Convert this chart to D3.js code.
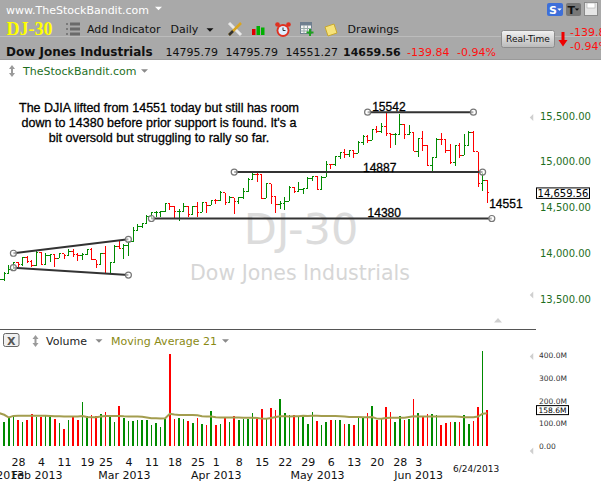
<!DOCTYPE html>
<html>
<head>
<meta charset="utf-8">
<title>DJ-30</title>
<script src="https://cdn.jsdelivr.net/npm/d3@7"></script>
<style>
body { margin: 0; background: #fff; overflow: hidden; }
svg { display: block; }
</style>
</head>
<body>
<script>
// trading days Jan 22 - Jun 24 2013, weekends and these holidays skipped
var holidays = ["2013-02-18", "2013-03-29", "2013-05-27"];

// daily bars, DJIA points
var opens = [13649,13712,13779,13825,13896,13882,13954,13910,13861,14009,
  13880,13979,13986,13944,13993,13971,14019,13983,13973,13982,
  14036,13928,13881,14001,13784,13900,14075,14054,14090,14128,
  14254,14296,14329,14397,14447,14450,14455,14539,14514,14452,
  14456,14512,14421,14512,14448,14560,14526,14579,14573,14662,
  14550,14606,14565,14613,14673,14802,14865,14865,14599,14757,
  14619,14537,14548,14567,14719,14676,14701,14713,14819,14840,
  14701,14832,14974,14969,15056,15105,15083,15118,15092,15215,
  15276,15233,15354,15335,15388,15307,15295,15303,15409,15303,
  15325,15116,15254,15178,14961,15041,15248,15239,15122,14995,
  15176,15070,15180,15318,15112,14758,14796];
var highs = [13720,13800,13870,13903,13906,13964,13965,13925,14020,14010,
  14000,13996,13993,14004,13995,14044,14049,14004,14008,14036,
  14054,13928,14002,14084,13908,14093,14150,14104,14128,14286,
  14320,14333,14414,14448,14460,14466,14540,14539,14514,14480,
  14546,14512,14512,14563,14560,14560,14584,14598,14684,14662,
  14627,14606,14614,14714,14827,14888,14875,14865,14761,14757,
  14619,14570,14611,14738,14723,14778,14715,14838,14840,14840,
  14846,15009,14974,15060,15106,15134,15120,15120,15223,15288,
  15289,15355,15389,15420,15542,15307,15310,15519,15409,15400,
  15325,15254,15340,15178,15050,15262,15310,15239,15195,15183,
  15200,15303,15333,15340,15112,14880,14796];
var lows = [13601,13700,13775,13825,13848,13860,13898,13845,13861,13874,
  13880,13905,13855,13944,13939,13971,13955,13919,13922,13982,
  13927,13840,13881,13784,13784,13900,14050,13938,13970,14128,
  14254,14280,14329,14375,14399,14392,14455,14470,14370,14350,
  14456,14400,14421,14395,14448,14439,14523,14536,14573,14525,
  14550,14434,14542,14597,14673,14802,14775,14597,14599,14540,
  14444,14483,14473,14567,14655,14676,14647,14713,14785,14687,
  14701,14832,14925,14950,15026,15045,15053,15042,15092,15181,
  15210,15233,15318,15318,15277,15155,15180,15303,15244,15289,
  15115,15054,15120,14952,14884,15041,15183,15099,14975,14951,
  15045,15070,15180,15110,14720,14680,14551.27];
var closes = [13712,13779,13825,13896,13882,13954,13910,13861,14010,13880,
  13979,13987,13944,13993,13971,14019,13983,13973,13982,14036,
  13928,13881,14001,13784,13900,14075,14054,14090,14128,14254,
  14296,14329,14397,14447,14450,14455,14539,14514,14452,14456,
  14512,14421,14512,14448,14560,14526,14579,14573,14662,14550,
  14606,14565,14613,14673,14802,14865.14,14865.06,14599,14757,14619,
  14537,14548,14567,14719,14676,14701,14713,14819,14840,14701,
  14832,14974,14969,15056,15105,15083,15118,15092,15215,15276,
  15233,15354,15335,15388,15307,15295,15303,15409,15303,15325,
  15116,15254,15178,14961,15041,15248,15239,15122,14995,15176,
  15070,15180,15318,15112,14758,14799,14659.56];

// volume, millions of shares, and its 21 day average as drawn
var volumes = [145,108,127,127,115,108,115,140,127,127,
  133,127,119,100,75,115,127,115,195,133,
  136,131,140,150,131,106,177,124,112,112,
  115,115,115,93,100,83,119,407,119,124,
  119,111,102,124,97,93,155,93,97,127,
  108,133,115,119,119,145,119,164,119,168,
  159,208,146,136,136,127,130,97,150,111,
  93,105,115,115,115,97,97,93,125,125,
  145,177,115,121,171,150,108,133,115,121,
  208,145,130,142,140,136,93,100,106,106,
  106,136,97,111,171,420,158.6];
var volumeMA = [145,138,126,133,134,134,134,134,134,134,
  134,133,132,131,130,130,130,130,133,128,
  127,127,130,133,133,133,133,131,130,130,
  130,129,126,123,123,122,123,142,139,137,
  137,137,137,136,132,130,130,127,126,126,
  126,126,126,125,125,125,124,121,120,124,
  128,131,131,130,131,132,134,133,134,134,
  133,133,133,133,132,130,128,128,128,127,
  127,128,121,120,124,125,125,125,125,128,
  131,130,130,130,130,130,130,130,130,130,
  129,127,127,127,130,143,145];

var dayTicks = ["2013-01-28","2013-02-04","2013-02-11","2013-02-19","2013-02-25",
  "2013-03-04","2013-03-11","2013-03-18","2013-03-25","2013-04-01","2013-04-08",
  "2013-04-15","2013-04-22","2013-04-29","2013-05-06","2013-05-13","2013-05-20",
  "2013-05-28","2013-06-03"];
var monthTicks = ["2013-01-22","2013-02-01","2013-03-01","2013-04-01","2013-05-01","2013-06-03"];
var priceTicks = [13500, 14000, 14500, 15000, 15500];
var volumeTicks = [0, 100, 200, 300, 400];

// hand drawn lines on the chart
var drawnLines = [
  {from: "2013-01-25", p1: 14000, to: "2013-03-04", p2: 14152},
  {from: "2013-01-25", p1: 13842, to: "2013-03-04", p2: 13762},
  {from: "2013-03-11", p1: 14380, to: "2013-06-25", p2: 14380},
  {from: "2013-04-05", p1: 14887, to: "2013-06-21", p2: 14887},
  {from: "2013-05-16", p1: 15542, to: "2013-06-19", p2: 15542}
];
var drawnLabels = [
  {text: "15542", at: "2013-05-17", price: 15542, dy: -1.5},
  {text: "14887", at: "2013-05-15", price: 14887, dy: -0.5},
  {text: "14380", at: "2013-05-16", price: 14380, dy: -1.8},
  {text: "14551", at: "2013-06-24", price: 14551, dy: 5.2, dx: 2}
];
var note = ["The DJIA lifted from 14551 today but still has room",
  "down to 14380 before prior support is found. It's a",
  "bit oversold but struggling to rally so far."];

var W = 601, H = 482;
var UI = "'DejaVu Sans', Verdana, sans-serif";
var ARIAL = "'Liberation Sans', Arial, sans-serif";

var parse = d3.timeParse("%Y-%m-%d"), fmt = d3.timeFormat("%Y-%m-%d");
var dates = d3.timeDay.range(parse("2013-01-22"), parse("2013-06-25"))
  .filter(function(d) { return d.getDay() % 6 !== 0 && holidays.indexOf(fmt(d)) < 0; });
var idxOf = {};
dates.forEach(function(d, i) { idxOf[fmt(d)] = i; });

var x = d3.scaleLinear().domain([0, dates.length - 1]).range([-0.4, -0.4 + 4.6 * (dates.length - 1)]);
var yP = d3.scaleLinear().domain([13500, 15500]).range([299, 116]);
var yV = d3.scaleLinear().domain([0, 400]).range([446, 355.5]);

function xAt(s) {
  if (s in idxOf) return x(idxOf[s]);
  var last = dates.length - 1;
  return x(last + d3.timeDay.count(dates[last], parse(s)));
}

var svg = d3.select("body").append("svg")
  .attr("width", W).attr("height", H)
  .style("font-family", UI);

function txt(g, px, py, s, size, fill, extra) {
  var t = g.append("text").attr("x", px).attr("y", py)
    .attr("font-size", size).attr("fill", fill).text(s);
  if (extra) extra(t);
  return t;
}
function triDown(g, cx, cy, w, fill) {
  g.append("path").attr("d", "M" + (cx - w / 2) + "," + (cy - w / 4) + "h" + w + "l" + (-w / 2) + "," + (w / 2) + "z").attr("fill", fill);
}
function triLeft(g, cx, cy, s, fill) {
  g.append("path").attr("d", "M" + (cx + s / 2) + "," + (cy - s) + "v" + (2 * s) + "l" + (-s) + "," + (-s) + "z").attr("fill", fill);
}
function updown(g, cx, top, fill) {
  g.append("path").attr("d", "M" + cx + "," + top + "l3,4h-2v4h2l-3,4l-3,-4h2v-4h-2z").attr("fill", fill);
}

// ---------------- header ----------------
var hdr = svg.append("g");
hdr.append("rect").attr("width", W).attr("height", 60).attr("fill", "#a9a9a9");
hdr.append("line").attr("x1", 0).attr("x2", W).attr("y1", 36.5).attr("y2", 36.5).attr("stroke", "#bcbcbc");
hdr.append("line").attr("x1", 0).attr("x2", W).attr("y1", 59.5).attr("y2", 59.5).attr("stroke", "#9a9a9a");

txt(hdr, 6, 13.5, "www.TheStockBandit.com", 11, "#fff");
triDown(hdr, 158.5, 8.5, 7, "#fff");

txt(hdr, 6.5, 35, "DJ-30", 18, "#ffff00", function(t) {
  t.style("font-family", "'Liberation Serif', 'Times New Roman', serif").attr("font-weight", "bold");
});
// list icon
[24, 29, 34].forEach(function(yy) {
  hdr.append("rect").attr("x", 66).attr("y", yy - 1).attr("width", 2).attr("height", 2).attr("fill", "#7a7a7a");
  hdr.append("rect").attr("x", 70).attr("y", yy - 1.5).attr("width", 10).attr("height", 3).attr("fill", "#6a6a6a");
});
txt(hdr, 87, 33.3, "Add Indicator", 11, "#111");
txt(hdr, 170.5, 33.3, "Daily", 11, "#111");
triDown(hdr, 210, 30, 7, "#111");
// tools icon
hdr.append("line").attr("x1", 229).attr("y1", 23).attr("x2", 241).attr("y2", 35).attr("stroke", "#e8e8e8").attr("stroke-width", 3);
hdr.append("line").attr("x1", 241).attr("y1", 23).attr("x2", 229).attr("y2", 35).attr("stroke", "#d9a520").attr("stroke-width", 2.5);
hdr.append("line").attr("x1", 233).attr("y1", 31).attr("x2", 229).attr("y2", 35).attr("stroke", "#333").attr("stroke-width", 2.5);
// bar chart icon
[[252, 29, "#e00000"], [256.5, 26, "#00b000"], [261, 27.5, "#00b000"]].forEach(function(b) {
  hdr.append("rect").attr("x", b[0]).attr("y", b[1]).attr("width", 3.5).attr("height", 35 - b[1]).attr("fill", b[2]);
});
// alarm clock
hdr.append("circle").attr("cx", 283).attr("cy", 30.5).attr("r", 6.5).attr("fill", "#e03020");
hdr.append("circle").attr("cx", 283).attr("cy", 30.5).attr("r", 4.6).attr("fill", "#dfefff");
hdr.append("path").attr("d", "M283,27.5v3h2.5").attr("stroke", "#333").attr("fill", "none");
hdr.append("circle").attr("cx", 277.5).attr("cy", 24.5).attr("r", 2.3).attr("fill", "#e03020");
hdr.append("circle").attr("cx", 288.5).attr("cy", 24.5).attr("r", 2.3).attr("fill", "#e03020");
// calendar icon
hdr.append("rect").attr("x", 300.5).attr("y", 22.5).attr("width", 11).attr("height", 11).attr("fill", "#f4f4f4").attr("stroke", "#6f7f8f");
hdr.append("rect").attr("x", 300.5).attr("y", 22.5).attr("width", 11).attr("height", 3).attr("fill", "#6f7f8f");
[304, 307.5].forEach(function(xx) { hdr.append("line").attr("x1", xx).attr("x2", xx).attr("y1", 25).attr("y2", 33.5).attr("stroke", "#9aa"); });
[28.5, 31].forEach(function(yy) { hdr.append("line").attr("x1", 300.5).attr("x2", 311.5).attr("y1", yy).attr("y2", yy).attr("stroke", "#9aa"); });
hdr.append("path").attr("d", "M309,29h2v2.5h2.5v2h-2.5v2.5h-2v-2.5h-2.5v-2h2.5z").attr("fill", "#20a020");
// note icon
hdr.append("path").attr("d", "M325,27l9,-3l3,9l-9,3z").attr("fill", "#f6e27a").attr("stroke", "#c8a830");
txt(hdr, 347.5, 33.3, "Drawings", 11, "#111");
// top right buttons
hdr.append("rect").attr("x", 547).attr("y", 3).attr("width", 16).attr("height", 13).attr("rx", 2).attr("fill", "#3d6fd9");
txt(hdr, 549, 14, "S", 11, "#fff", function(t) { t.attr("font-weight", "bold"); });
triDown(hdr, 559.5, 9.5, 4.5, "#fff");
hdr.append("rect").attr("x", 566).attr("y", 3).attr("width", 15).attr("height", 13).attr("rx", 2).attr("fill", "#777");
txt(hdr, 567.5, 14, "T", 11, "#111", function(t) { t.attr("font-weight", "bold"); });
triDown(hdr, 577, 9.5, 4.5, "#111");
hdr.append("rect").attr("x", 584.5).attr("y", 2.5).attr("width", 13).attr("height", 13).attr("fill", "#e6e6e6").attr("stroke", "#8a8a8a");
hdr.append("rect").attr("x", 587).attr("y", 3).attr("width", 8).attr("height", 5).attr("fill", "#fff").attr("stroke", "#aaa").attr("stroke-width", 0.6);

// quote row
txt(hdr, 6, 56, "Dow Jones Industrials", 12, "#111", function(t) { t.attr("font-weight", "bold"); });
txt(hdr, 165.5, 56, "14795.79", 11, "#111");
txt(hdr, 225.5, 56, "14795.79", 11, "#111");
txt(hdr, 285.5, 56, "14551.27", 11, "#111");
txt(hdr, 343, 56, "14659.56", 11, "#111", function(t) { t.attr("font-weight", "bold"); });
txt(hdr, 407, 56, "-139.84", 11, "#ff1010");
txt(hdr, 457, 56, "-0.94%", 11, "#ff1010");

var grad = svg.append("defs").append("linearGradient").attr("id", "btn").attr("x1", 0).attr("x2", 0).attr("y1", 0).attr("y2", 1);
grad.append("stop").attr("offset", "0%").attr("stop-color", "#f2f2f2");
grad.append("stop").attr("offset", "100%").attr("stop-color", "#b9b9b9");
hdr.append("rect").attr("x", 501.5).attr("y", 30.5).attr("width", 53).attr("height", 17).attr("rx", 2)
  .attr("fill", "url(#btn)").attr("stroke", "#8c8c8c");
txt(hdr, 528, 42.3, "Real-Time", 9, "#111", function(t) { t.attr("text-anchor", "middle"); });
hdr.append("path").attr("d", "M561.5,32h3v8h3l-4.5,6.5l-4.5,-6.5h3z").attr("fill", "#ee0000");
txt(hdr, 570, 36, "-139.84", 11, "#ff1010");
txt(hdr, 570, 50, "-0.94%", 11, "#ff1010");

// ---------------- price panel ----------------
var bars = dates.map(function(d, i) {
  return {i: i, o: opens[i], h: highs[i], l: lows[i], c: closes[i], v: volumes[i],
    up: closes[i] >= (i ? closes[i - 1] : opens[i])};
});

updown(svg, 12, 65, "#9a9a9a");
txt(svg, 23, 75, "TheStockBandit.com", 11, "#1f6f1f");
triDown(svg, 144.5, 71, 7, "#8a8a8a");

// watermark
txt(svg, 301, 243.5, "DJ-30", 43, "#dcdcdc", function(t) { t.attr("text-anchor", "middle"); });
txt(svg, 300, 279.5, "Dow Jones Industrials", 20.5, "#d6d6d6", function(t) { t.attr("text-anchor", "middle"); });

var barG = svg.append("g").attr("shape-rendering", "crispEdges").attr("stroke-width", 1)
  .selectAll("g").data(bars).enter().append("g")
  .attr("stroke", function(d) { return d.up ? "#008a00" : "#ff0000"; });
barG.append("line")
  .attr("x1", function(d) { return x(d.i); }).attr("x2", function(d) { return x(d.i); })
  .attr("y1", function(d) { return yP(d.h); }).attr("y2", function(d) { return yP(d.l); });
barG.append("line")
  .attr("x1", function(d) { return x(d.i) - 2; }).attr("x2", function(d) { return x(d.i); })
  .attr("y1", function(d) { return yP(d.o); }).attr("y2", function(d) { return yP(d.o); });
barG.append("line")
  .attr("x1", function(d) { return x(d.i); }).attr("x2", function(d) { return x(d.i) + 2; })
  .attr("y1", function(d) { return yP(d.c); }).attr("y2", function(d) { return yP(d.c); });

// drawn trend / support lines
var drawG = svg.append("g");
drawG.selectAll("line").data(drawnLines).enter().append("line")
  .attr("x1", function(d) { return xAt(d.from); }).attr("y1", function(d) { return yP(d.p1); })
  .attr("x2", function(d) { return xAt(d.to); }).attr("y2", function(d) { return yP(d.p2); })
  .attr("stroke", "#333").attr("stroke-width", 2);
var ends = [];
drawnLines.forEach(function(d) {
  ends.push([xAt(d.from), yP(d.p1)]);
  ends.push([xAt(d.to), yP(d.p2)]);
});
drawG.selectAll("circle").data(ends).enter().append("circle")
  .attr("cx", function(d) { return d[0]; }).attr("cy", function(d) { return d[1]; })
  .attr("r", 3).attr("fill", "#fff").attr("fill-opacity", 0.6).attr("stroke", "#777").attr("stroke-width", 1.2);
drawG.selectAll("text").data(drawnLabels).enter().append("text")
  .attr("x", function(d) { return xAt(d.at) + (d.dx || 0); })
  .attr("y", function(d) { return yP(d.price) + d.dy; })
  .attr("font-size", 12).style("font-family", ARIAL).attr("fill", "#000")
  .attr("stroke", "#000").attr("stroke-width", 0.3)
  .text(function(d) { return d.text; });

svg.append("g").selectAll("text").data(note).enter().append("text")
  .attr("x", 159).attr("y", function(d, i) { return 111.5 + i * 15.2; })
  .attr("text-anchor", "middle").attr("font-size", 12.5).style("font-family", ARIAL)
  .attr("fill", "#000").attr("stroke", "#000").attr("stroke-width", 0.3)
  .text(function(d) { return d; });

// price axis on the right
var pAxis = svg.append("g").attr("transform", "translate(540,0)")
  .call(d3.axisRight(yP).tickValues(priceTicks).tickFormat(d3.format(",.2f")).tickSize(0).tickPadding(0));
pAxis.select(".domain").remove();
pAxis.selectAll("text").attr("font-size", 10).style("font-family", UI).attr("fill", "#1e6e1e");
triLeft(svg, 531.5, yP(15500) + 1.5, 3.5, "#cfcfcf");
triLeft(svg, 531.5, yP(13500) - 4, 3.5, "#cfcfcf");

var lastClose = closes[closes.length - 1];
svg.append("rect").attr("x", 536.5).attr("y", yP(lastClose) - 5).attr("width", 53).attr("height", 10.5)
  .attr("fill", "#fff").attr("stroke", "#000");
txt(svg, 563, yP(lastClose) + 3.6, d3.format(",.2f")(lastClose), 10, "#000", function(t) { t.attr("text-anchor", "middle"); });

// panel separator and scroll handle
svg.append("line").attr("x1", 0).attr("x2", 536).attr("y1", 329.5).attr("y2", 329.5).attr("stroke", "#555");
svg.append("path").attr("d", "M494,322.5l4,-4.5l4,4.5z").attr("fill", "#cfcfcf");

// ---------------- volume panel ----------------
svg.append("rect").attr("x", 3.5).attr("y", 333.5).attr("width", 15.5).attr("height", 13).attr("rx", 2)
  .attr("fill", "#f0f0f0").attr("stroke", "#666");
txt(svg, 11.3, 344.5, "X", 11, "#555", function(t) { t.attr("text-anchor", "middle").attr("font-weight", "bold"); });
updown(svg, 35.5, 335, "#9a9a9a");
txt(svg, 46, 345, "Volume", 11, "#222");
triDown(svg, 99, 341, 7, "#8a8a8a");
txt(svg, 111, 345, "Moving Average 21", 11, "#8a8a14");
triDown(svg, 225.5, 341, 7, "#8a8a8a");

svg.append("g").attr("shape-rendering", "crispEdges")
  .selectAll("line").data(bars).enter().append("line")
  .attr("x1", function(d) { return x(d.i); }).attr("x2", function(d) { return x(d.i); })
  .attr("y1", yV(0)).attr("y2", function(d) { return yV(d.v); })
  .attr("stroke", function(d) { return d.up ? "#008a00" : "#ff0000"; })
  .attr("stroke-width", 1.5);

svg.append("path").datum(volumeMA)
  .attr("d", d3.line().x(function(d, i) { return x(i); }).y(function(d) { return yV(d); }))
  .attr("fill", "none").attr("stroke", "#a39d4e").attr("stroke-width", 2);

var vAxis = svg.append("g").attr("transform", "translate(539,0)")
  .call(d3.axisRight(yV).tickValues(volumeTicks).tickSize(0).tickPadding(0)
    .tickFormat(function(d) { return d === 0 ? "0.00" : d.toFixed(1) + "M"; }));
vAxis.select(".domain").remove();
vAxis.selectAll("text").attr("font-size", 7.5).style("font-family", UI).attr("fill", "#333");
triLeft(svg, 531.5, yV(400) + 1, 3.5, "#cfcfcf");
triLeft(svg, 531.5, yV(0) + 5, 3.5, "#cfcfcf");

var lastVol = volumes[volumes.length - 1];
svg.append("rect").attr("x", 536.5).attr("y", yV(lastVol) - 4.5).attr("width", 32).attr("height", 9)
  .attr("fill", "#fff").attr("stroke", "#000");
txt(svg, 552.5, yV(lastVol) + 2.8, lastVol.toFixed(1) + "M", 7.5, "#000", function(t) { t.attr("text-anchor", "middle"); });

// ---------------- date axis ----------------
var dayAxis = svg.append("g").attr("transform", "translate(0,458.5)")
  .call(d3.axisBottom(x).tickValues(dayTicks.map(function(s) { return idxOf[s]; }))
    .tickFormat(function(i) { return d3.timeFormat("%-d")(dates[i]); }).tickSize(0).tickPadding(0));
var monthAxis = svg.append("g").attr("transform", "translate(0,471.5)")
  .call(d3.axisBottom(x).tickValues(monthTicks.map(function(s) { return idxOf[s]; }))
    .tickFormat(function(i) { return d3.timeFormat("%b %Y")(dates[i]); }).tickSize(0).tickPadding(0));
[dayAxis, monthAxis].forEach(function(a) {
  a.select(".domain").remove();
  a.selectAll("text").attr("font-size", 11).style("font-family", UI).attr("fill", "#111");
});
txt(svg, x(dates.length - 1) + 12, 472.3, d3.timeFormat("%-m/%-d/%Y")(dates[dates.length - 1]), 9, "#111",
  function(t) { t.attr("text-anchor", "end"); });
</script>
</body>
</html>
